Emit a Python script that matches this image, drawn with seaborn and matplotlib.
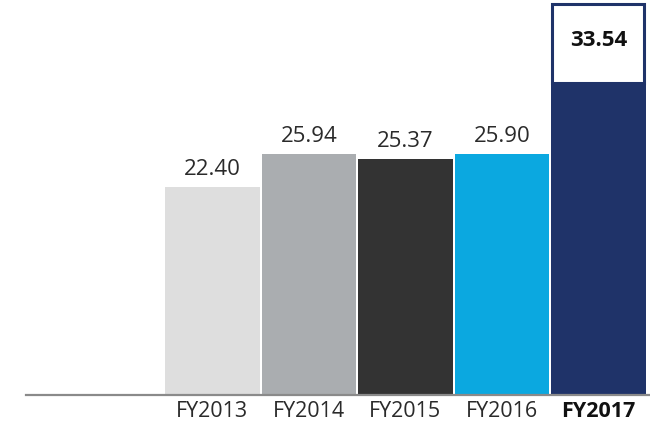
import matplotlib
matplotlib.use("Agg")
import matplotlib.pyplot as plt
import seaborn as sns
import pandas as pd
from matplotlib.patches import Rectangle

# values
years = ["FY2013", "FY2014", "FY2015", "FY2016", "FY2017"]
values = [22.40, 25.94, 25.37, 25.90, 33.54]
colors = ["#dedede", "#aaadb0", "#333333", "#0ba8e0", "#1f3369"]

df = pd.DataFrame({"year": years, "value": values})

sns.set_style("white")
plt.rcParams["font.family"] = ["Open Sans", "DejaVu Sans"]

fig = plt.figure(figsize=(6.5, 4.26), dpi=100)
ax = fig.add_axes([0, 31 / 426, 1, 395 / 426])

sns.barplot(data=df, x="year", y="value", hue="year", palette=colors,
            width=0.98, dodge=False, legend=False, saturation=1,
            linewidth=0, ax=ax)

ax.set_xlim(-2.20, 4.535)
ax.set_ylim(0, 42.5)

for s in ["top", "right", "left"]:
    ax.spines[s].set_visible(False)
ax.spines["bottom"].set_color("#8a8a8a")
ax.spines["bottom"].set_linewidth(1.6)
ax.spines["bottom"].set_bounds(-1.93, 4.535)

ax.set_yticks([])
ax.set_xlabel("")
ax.set_ylabel("")
ax.tick_params(axis="x", length=0, pad=4)
ax.set_xticks(range(len(years)))
ax.set_xticklabels(years, fontsize=15.5, color="#2a2a2a")
ax.get_xticklabels()[-1].set_fontweight("bold")
ax.get_xticklabels()[-1].set_color("#111111")

# value labels over the first four bars
for i, v in enumerate(values[:-1]):
    ax.annotate(f"{v:.2f}", (i, v), xytext=(0, 5), textcoords="offset points",
                ha="center", va="bottom", fontsize=16, color="#2a2a2a")

# boxed label for the last year
last = len(values) - 1
ax.add_patch(Rectangle((last - 0.478, values[-1]), 0.956, 42.05 - values[-1],
                       facecolor="white", edgecolor=colors[-1], linewidth=2.2,
                       zorder=3))
ax.text(last, 38.1, f"{values[-1]:.2f}", ha="center", va="center",
        fontsize=16, fontweight="bold", color="#111111", zorder=4)

fig.savefig("out.png", dpi=100)
